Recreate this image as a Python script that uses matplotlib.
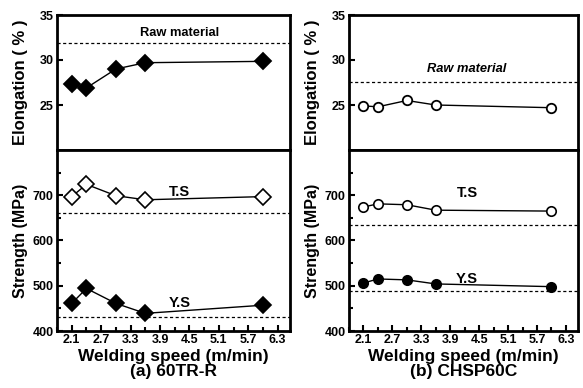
import matplotlib
matplotlib.use("Agg")
import matplotlib.pyplot as plt
from matplotlib.ticker import FixedLocator

plt.rcParams['font.family'] = ['Liberation Sans', 'DejaVu Sans']
plt.rcParams['font.weight'] = 'bold'

speed = [2.1, 2.4, 3.0, 3.6, 6.0]
xticks = [2.1, 2.7, 3.3, 3.9, 4.5, 5.1, 5.7, 6.3]
xticklabels = ["2.1", "2.7", "3.3", "3.9", "4.5", "5.1", "5.7", "6.3"]

# (a) 60TR-R
elong_a = [27.3, 26.9, 29.0, 29.7, 29.85]
raw_elong_a = 31.85
ts_a = [697, 724, 699, 690, 697]
ys_a = [461, 494, 461, 439, 457]
raw_ts_a = 661
raw_ys_a = 432

# (b) CHSP60C
elong_b = [24.9, 24.8, 25.5, 25.0, 24.7]
raw_elong_b = 27.5
ts_b = [674, 681, 679, 667, 665]
ys_b = [506, 515, 513, 504, 498]
raw_ts_b = 634
raw_ys_b = 488

W, H = 583, 388
fig = plt.figure(figsize=(W / 100, H / 100), dpi=100)


def frac(x0, y0, x1, y1):
    return [x0 / W, (H - y1) / H, (x1 - x0) / W, (y1 - y0) / H]


def panel(x0, x1, elong, raw_el, ts, ys, raw_ts, raw_ys, marker, fill_el,
          italic, title, raw_xy, ts_xy, ys_xy):
    axt = fig.add_axes(frac(x0, 15, x1, 150))
    axb = fig.add_axes(frac(x0, 150, x1, 331))
    for ax in (axt, axb):
        ax.set_xlim(1.8, 6.55)
        for s in ax.spines.values():
            s.set_linewidth(2.0)
        ax.tick_params(direction='in', length=4, width=1.5, labelsize=9,
                       pad=2.5, top=False, right=False)
        ax.tick_params(which='minor', direction='in', length=3, width=1.5,
                       top=False, right=False)
    ms = 8.5 if marker == 'D' else 6.8
    # top
    axt.set_ylim(20, 35)
    axt.yaxis.set_major_locator(FixedLocator([25, 30, 35]))
    axt.set_xticks([])
    axt.axhline(raw_el, color='black', lw=0.9, ls=(0, (2.5, 2)))
    axt.plot(speed, elong, color='black', lw=1.0, marker=marker, ms=ms,
             mfc=fill_el, mec='black', mew=1.3)
    axt.text(raw_xy[0], raw_xy[1], "Raw material", fontsize=9.3,
             fontweight='bold', style='italic' if italic else 'normal',
             ha='center', va='center', transform=axt.transData)
    axt.set_ylabel("Elongation ( % )", fontsize=12, fontweight='bold')
    axt.yaxis.set_label_coords(-0.125, 0.5)
    # bottom
    axb.set_ylim(400, 800)
    axb.yaxis.set_major_locator(FixedLocator([400, 500, 600, 700]))
    axb.yaxis.set_minor_locator(FixedLocator([450, 550, 650, 750]))
    axb.xaxis.set_major_locator(FixedLocator(xticks))
    axb.xaxis.set_minor_locator(FixedLocator([1.8, 2.4, 3.0, 3.6, 4.2, 4.8, 5.4, 6.0]))
    axb.set_xticklabels(xticklabels)
    axb.axhline(raw_ts, color='black', lw=0.9, ls=(0, (2.5, 2)))
    axb.axhline(raw_ys, color='black', lw=0.9, ls=(0, (2.5, 2)))
    axb.plot(speed, ts, color='black', lw=1.0, marker=marker, ms=ms,
             mfc='white', mec='black', mew=1.2)
    axb.plot(speed, ys, color='black', lw=1.0, marker=marker, ms=ms,
             mfc='black', mec='black', mew=1.2)
    axb.text(ts_xy[0], ts_xy[1], "T.S", fontsize=10.5, fontweight='bold',
             ha='center', va='center')
    axb.text(ys_xy[0], ys_xy[1], "Y.S", fontsize=10.5, fontweight='bold',
             ha='center', va='center')
    axb.set_ylabel("Strength (MPa)", fontsize=11.5, fontweight='bold')
    axb.yaxis.set_label_coords(-0.125, 0.5)
    axb.set_xlabel("Welding speed (m/min)\n" + title, fontsize=12.5,
                   fontweight='bold', linespacing=1.0, labelpad=2)
    return axt, axb


panel(57, 290, elong_a, raw_elong_a, ts_a, ys_a, raw_ts_a, raw_ys_a, 'D',
      'black', False, "(a) 60TR-R", (4.3, 33.0), (4.3, 707), (4.3, 462))
panel(349, 578, elong_b, raw_elong_b, ts_b, ys_b, raw_ts_b, raw_ys_b, 'o',
      'white', True, "(b) CHSP60C", (4.25, 29.0), (4.25, 704), (4.25, 516))

fig.savefig("out.png", dpi=100)
